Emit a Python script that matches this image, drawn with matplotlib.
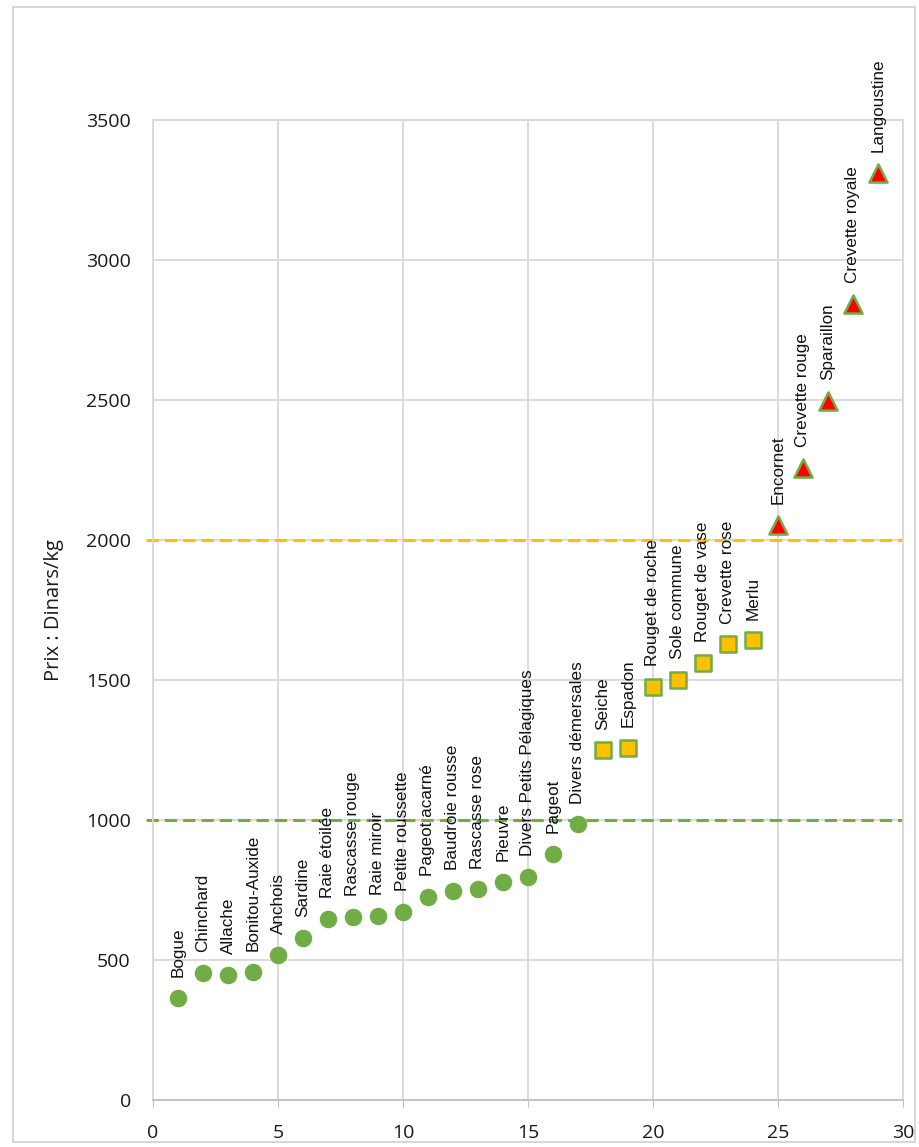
import matplotlib.pyplot as plt
from matplotlib.patches import Rectangle

plt.rcParams['font.family'] = ['Liberation Sans', 'DejaVu Sans']

# species grouped by price class
low_names = ['Bogue', 'Chinchard', 'Allache', 'Bonitou-Auxide', 'Anchois', 'Sardine',
             'Raie étoilée', 'Rascasse rouge', 'Raie miroir', 'Petite roussette',
             'Pageot acarné', 'Baudroie rousse', 'Rascasse rose', 'Pieuvre',
             'Divers Petits Pélagiques', 'Pageot', 'Divers démersales']
low_x = list(range(1, 18))
low_y = [365, 455, 447, 458, 518, 578, 646, 655, 656, 672, 726, 747, 752, 778, 797, 878, 984]

mid_names = ['Seiche', 'Espadon', 'Rouget de roche', 'Sole commune', 'Rouget de vase',
             'Crevette rose', 'Merlu']
mid_x = list(range(18, 25))
mid_y = [1248, 1256, 1476, 1500, 1562, 1627, 1641]

high_names = ['Encornet', 'Crevette rouge', 'Sparaillon', 'Crevette royale', 'Langoustine']
high_x = list(range(25, 30))
high_y = [2055, 2257, 2496, 2843, 3311]

thresholds = [1000, 2000]
threshold_colors = ['#70AD47', '#FFC000']

green = '#70AD47'
grid = '#D9D9D9'

fig = plt.figure(figsize=(9.19, 11.47), dpi=100)
ax = fig.add_axes([0.1665, 0.041, 0.816, 0.8545])

# outer chart frame
fig.patches.append(Rectangle((0.014, 0.004), 0.982, 0.99, transform=fig.transFigure,
                             fill=False, edgecolor='#D0D0D0', linewidth=1.2))

for t, c in zip(thresholds, threshold_colors):
    ax.plot([-0.3, 30], [t, t], color=c, linestyle=(0, (4, 2)), linewidth=2.2,
            clip_on=False, zorder=2)

ax.scatter(low_x, low_y, s=135, marker='o', color=green, zorder=3)
ax.scatter(mid_x, mid_y, s=120, marker='s', facecolor='#FFC000', edgecolor=green,
           linewidth=1.8, zorder=3)
ax.scatter(high_x, high_y, s=170, marker='^', facecolor='#FF0000', edgecolor=green,
           linewidth=1.8, zorder=3)

for names, xs, ys in [(low_names, low_x, low_y), (mid_names, mid_x, mid_y),
                      (high_names, high_x, high_y)]:
    for n, x, y in zip(names, xs, ys):
        ax.annotate(n, (x, y), xytext=(0, 15), textcoords='offset points',
                    rotation=90, ha='center', va='bottom', fontsize=12.3,
                    color='#111111', zorder=4)

ax.set_xlim(0, 30)
ax.set_ylim(0, 3500)
ax.set_xticks(range(0, 31, 5))
ax.set_yticks(range(0, 3501, 500))
ax.grid(True, color=grid, linewidth=1.3)
ax.set_axisbelow(True)
for s in ax.spines.values():
    s.set_color(grid)
    s.set_linewidth(1.3)
ax.spines['bottom'].set_color('#BFBFBF')
ax.tick_params(axis='x', direction='out', length=5, color='#BFBFBF', labelsize=14,
               pad=12, labelcolor='#1a1a1a')
ax.tick_params(axis='y', length=0, labelsize=14, pad=16, labelcolor='#1a1a1a')
for lab in ax.get_xticklabels() + ax.get_yticklabels():
    lab.set_fontfamily(['Open Sans', 'DejaVu Sans'])

ax.set_ylabel('Prix : Dinars/kg', fontsize=14.5, fontfamily=['Open Sans', 'DejaVu Sans'],
              color='#1a1a1a', labelpad=16)

fig.savefig('out.png', dpi=100)
